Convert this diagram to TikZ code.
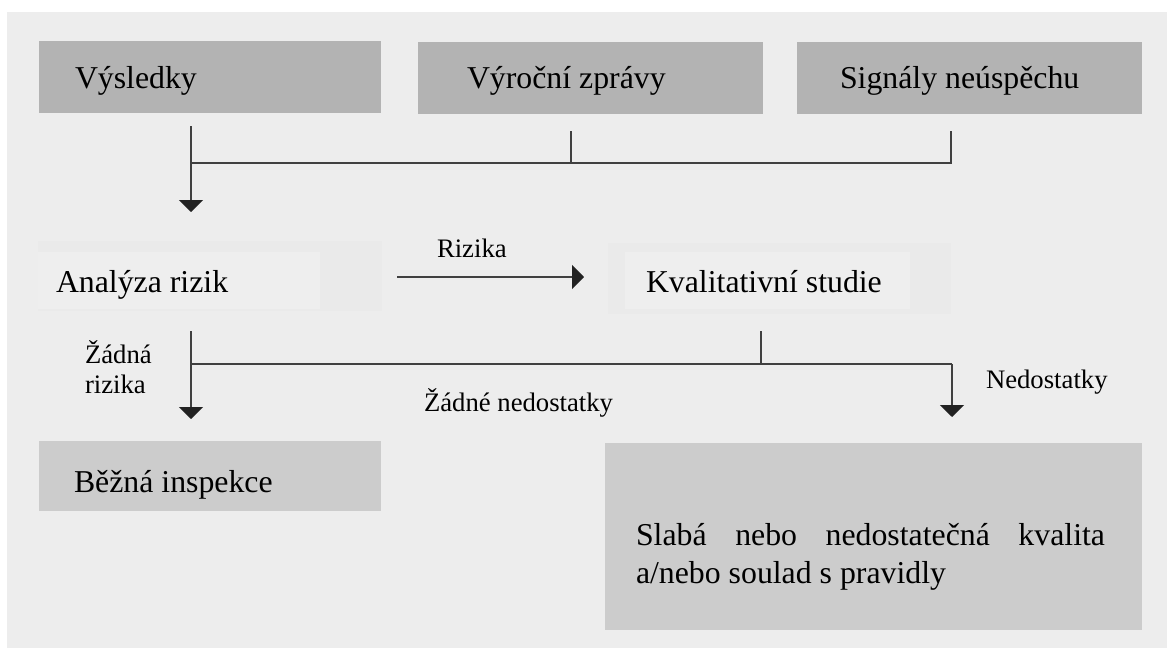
\documentclass[tikz,border=0pt]{standalone}
\usepackage{fontspec}
\setmainfont{Liberation Serif}
\usetikzlibrary{arrows.meta}
\definecolor{panel}{HTML}{EDEDED}
\definecolor{topbox}{HTML}{B3B3B3}
\definecolor{lowbox}{HTML}{CCCCCC}
\definecolor{ghostout}{HTML}{EAEAEA}
\definecolor{ghostin}{HTML}{EEEEEE}
\definecolor{linec}{HTML}{404040}
\definecolor{headc}{HTML}{222222}
\begin{document}
\begin{tikzpicture}[x=1pt,y=-1pt,
  box/.style={rectangle, inner sep=0pt, outer sep=0pt, anchor=north west},
  bigtext/.style={font=\fontsize{31.8}{38}\selectfont, inner sep=0pt, outer sep=0pt, anchor=base west},
  smalltext/.style={font=\fontsize{26.7}{31}\selectfont, inner sep=0pt, outer sep=0pt, anchor=base west},
  conn/.style={draw=linec, line width=1.6pt},
  arr/.style={conn, -{Triangle[width=24pt,length=12pt,color=headc]}}
]
\useasboundingbox (0,0) rectangle (1167,648);
\fill[white] (0,0) rectangle (1167,648);
\node[box, fill=panel, minimum width=1160pt, minimum height=636pt] (panel) at (7,12) {};

% top boxes
\node[box, fill=topbox, minimum width=342pt, minimum height=72pt] (b1) at (39,41) {};
\node[box, fill=topbox, minimum width=345pt, minimum height=72pt] (b2) at (418,42) {};
\node[box, fill=topbox, minimum width=345pt, minimum height=72pt] (b3) at (797,42) {};
\node[bigtext] (t1) at (75,88) {Výsledky};
\node[bigtext] (t2) at (467,88) {Výroční zprávy};
\node[bigtext] (t3) at (840,88) {Signály neúspěchu};

% top connectors
\coordinate (s1) at (191,126);
\coordinate (s2) at (571,131);
\coordinate (s3) at (951,131);
\coordinate (h1) at (191,163);
\coordinate (h2) at (571,163);
\coordinate (h3) at (951,163);
\coordinate (e1) at (191,212);
\draw[conn] (s2) -- (h2);
\draw[conn] (s3) -- (h3) -- (h1);
\draw[arr] (s1) -- (e1);

% middle row
\node[box, fill=ghostout, minimum width=344pt, minimum height=70pt] (a1) at (38,241) {};
\node[box, fill=ghostin, minimum width=282pt, minimum height=57pt] (a2) at (38,252) {};
\node[bigtext] (ta) at (56,292) {Analýza rizik};
\node[box, fill=ghostout, minimum width=343pt, minimum height=71pt] (k1) at (608,243) {};
\node[box, fill=ghostin, minimum width=285pt, minimum height=57pt] (k2) at (625,252) {};
\node[bigtext] (tk) at (646,292) {Kvalitativní studie};

\coordinate (r1) at (397,277);
\coordinate (r2) at (584,277);
\draw[arr] (r1) -- (r2);
\node[smalltext] (lr) at (437,257) {Rizika};

% lower connectors
\coordinate (d1) at (191,331);
\coordinate (m1) at (191,364);
\coordinate (d2) at (191,419);
\coordinate (q1) at (761,331);
\coordinate (q2) at (761,364);
\coordinate (n1) at (952,364);
\coordinate (n2) at (952,417);
\draw[arr] (d1) -- (d2);
\draw[conn] (m1) -- (n1);
\draw[conn] (q1) -- (q2);
\draw[arr] (n1) -- (n2);

\node[smalltext] (lz1) at (85,363) {Žádná};
\node[smalltext] (lz2) at (85,393) {rizika};
\node[smalltext] (lzn) at (424,411) {Žádné nedostatky};
\node[smalltext] (ln) at (986,388) {Nedostatky};

% bottom boxes
\node[box, fill=lowbox, minimum width=342pt, minimum height=70pt] (bb) at (39,441) {};
\node[bigtext] (tb) at (74,492) {Běžná inspekce};
\node[box, fill=lowbox, minimum width=537pt, minimum height=187pt] (bs) at (605,443) {};
\node[bigtext] (ts1) at (636,545) {\makebox[469pt][l]{Slabá\hfill nebo\hfill nedostatečná\hfill kvalita}};
\node[bigtext] (ts2) at (636,583) {a/nebo soulad s pravidly};
\end{tikzpicture}
\end{document}
